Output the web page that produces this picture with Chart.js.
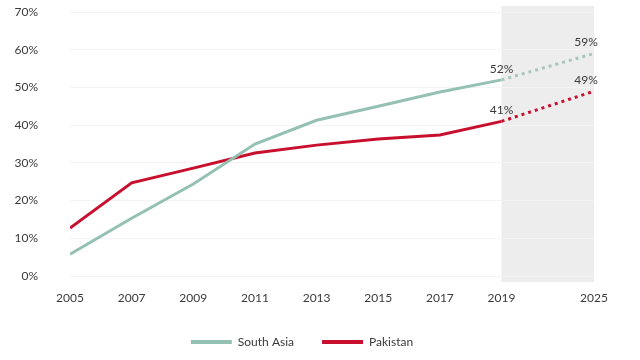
<!DOCTYPE html>
<html>
<head>
<meta charset="utf-8">
<script src="https://cdn.jsdelivr.net/npm/chart.js@4.4.1/dist/chart.umd.min.js"></script>
<style>
  html, body { margin: 0; padding: 0; background: #fff; }
  #wrap { width: 640px; height: 360px; }
</style>
</head>
<body>
<div id="wrap"><canvas id="myChart"></canvas></div>
<script>
var years = [2005, 2007, 2009, 2011, 2013, 2015, 2017, 2019, 2025];
var southAsia = [5.8, 15.3, 24.4, 35, 41.3, 45, 48.8, 52, 59];
var pakistan = [12.7, 24.7, 28.6, 32.6, 34.7, 36.3, 37.4, 41, 49];
var yTicks = [0, 10, 20, 30, 40, 50, 60, 70];
var projectionStart = 2019;

// the axis is squeezed after 2019 (6 years take the room of 3)
function yearPos(y) {
  return y <= 2019 ? (y - 2005) / 2 : 7 + (y - 2019) / 4;
}

function toPoints(values) {
  return values.map(function (v, i) { return { x: yearPos(years[i]), y: v }; });
}

var projectedDash = function (ctx) {
  return years[ctx.p0DataIndex] >= projectionStart ? [3, 4] : undefined;
};

var shadePlugin = {
  id: 'shade',
  beforeDraw: function (chart) {
    var x = chart.scales.x, area = chart.chartArea, c = chart.ctx;
    var left = x.getPixelForValue(yearPos(projectionStart));
    var right = x.getPixelForValue(yearPos(2025));
    c.save();
    c.fillStyle = '#ededed';
    c.fillRect(left, area.top - 6, right - left, area.bottom - area.top + 12);
    c.restore();
  }
};

var labelPlugin = {
  id: 'endLabels',
  afterDatasetsDraw: function (chart) {
    var c = chart.ctx;
    c.save();
    c.font = '12px Lato';
    c.fillStyle = '#3a3a3a';
    c.textAlign = 'center';
    c.textBaseline = 'bottom';
    chart.data.datasets.forEach(function (ds, di) {
      var meta = chart.getDatasetMeta(di);
      [7, 8].forEach(function (i) {
        var p = meta.data[i];
        var dx = i === 8 ? -8 : 0;
        c.fillText(Math.round(ds.data[i].y) + '%', p.x + dx, p.y - 5);
      });
    });
    c.restore();
  }
};

var ctx = document.getElementById('myChart').getContext('2d');
var myChart = new Chart(ctx, {
    type: 'line',
    data: {
        datasets: [{
            label: 'South Asia',
            data: toPoints(southAsia),
            borderColor: '#95c1b4',
            backgroundColor: '#95c1b4',
            borderWidth: 3,
            pointRadius: 0,
            tension: 0,
            segment: {
              borderDash: projectedDash,
              borderColor: function (ctx) {
                return years[ctx.p0DataIndex] >= projectionStart ? '#a9c6bd' : undefined;
              }
            }
        }, {
            label: 'Pakistan',
            data: toPoints(pakistan),
            borderColor: '#c8102e',
            backgroundColor: '#c8102e',
            borderWidth: 3,
            pointRadius: 0,
            tension: 0,
            segment: { borderDash: projectedDash }
        }]
    },
    plugins: [shadePlugin, labelPlugin],
    options: {
      responsive: true,
      maintainAspectRatio: false,
      animation: false,
      layout: { padding: { left: 10, right: 46, top: 12, bottom: 2 } },
      scales: {
        x: {
          type: 'linear',
          min: 0,
          max: yearPos(2025),
          afterBuildTicks: function (scale) {
            scale.ticks = years.map(function (y) { return { value: yearPos(y) }; });
          },
          afterFit: function (scale) { scale.height = 32; },
          grid: { display: false },
          border: { display: false },
          ticks: {
            color: '#3a3a3a',
            font: { family: 'Lato', size: 12 },
            padding: 7,
            maxRotation: 0,
            callback: function (v, i) { return String(years[i]); }
          }
        },
        y: {
          min: 0,
          max: 70,
          afterBuildTicks: function (scale) {
            scale.ticks = yTicks.map(function (v) { return { value: v }; });
          },
          afterFit: function (scale) {
            scale.width = 60;
            // tick padding would otherwise be added above and below the axis
            scale.paddingTop = 7;
            scale.paddingBottom = 7;
          },
          grid: { color: '#f4f4f4', drawTicks: false },
          border: { display: false },
          ticks: {
            color: '#3a3a3a',
            font: { family: 'Lato', size: 12 },
            padding: 32,
            callback: function (v) { return v + '%'; }
          }
        }
      },
      plugins: {
        tooltip: { enabled: false },
        legend: {
          position: 'bottom',
          labels: {
            color: '#3a3a3a',
            font: { family: 'Lato', size: 12 },
            boxWidth: 41,
            boxHeight: 4,
            padding: 28,
            generateLabels: function (chart) {
              return chart.data.datasets.map(function (ds, i) {
                return {
                  text: ds.label,
                  fillStyle: ds.borderColor,
                  strokeStyle: ds.borderColor,
                  lineWidth: 0,
                  fontColor: '#3a3a3a',
                  datasetIndex: i
                };
              });
            }
          }
        }
      }
    }
});
</script>
</body>
</html>
